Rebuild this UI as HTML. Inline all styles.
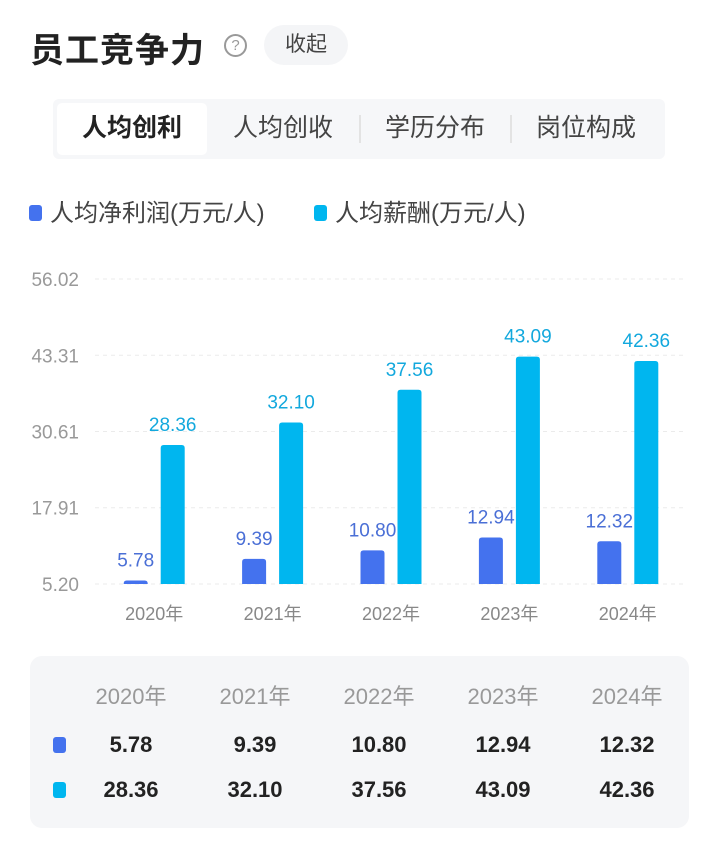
<!DOCTYPE html>
<html><head><meta charset="utf-8">
<style>
*{margin:0;padding:0;box-sizing:border-box}
body{width:719px;height:845px;background:#fff;font-family:"Liberation Sans","Noto Sans CJK SC",sans-serif;position:relative;overflow:hidden}
.abs{position:absolute}
.title{left:30px;top:23px;font-size:34px;font-weight:bold;color:#222;letter-spacing:1px}
.help{left:224px;top:34px;width:23px;height:23px;border:2px solid #999;border-radius:50%;color:#999;font-size:15px;text-align:center;line-height:19px}
.collapse{left:264px;top:25px;width:84px;height:40px;background:#f4f5f7;border-radius:20px;color:#444;font-size:21px;text-align:center;line-height:40px}
.tabs{left:53px;top:99px;width:612px;height:60px;background:#f6f7f9;border-radius:6px}
.tab{top:0;height:60px;line-height:58px;font-size:25px;color:#444;text-align:center;width:152px}
.tab.active{background:#fff;font-weight:bold;color:#222;top:4px;left:4px;height:52px;line-height:50px;border-radius:5px;width:150px}
.sep{top:16px;width:2px;height:28px;background:#e3e3e3}
.leg{top:193px;font-size:24px;color:#444}
.sq{display:inline-block;width:13px;height:16px;border-radius:3px;vertical-align:0px;margin-right:8px}
.table{left:30px;top:656px;width:659px;height:172px;background:#f5f6f8;border-radius:12px}
.cell{width:124px;text-align:center;font-size:21px}
</style></head><body>
<div class="abs title">员工竞争力</div>
<div class="abs help">?</div>
<div class="abs collapse">收起</div>
<div class="abs tabs">
 <div class="abs tab active">人均创利</div>
 <div class="abs tab" style="left:154px">人均创收</div>
 <div class="abs sep" style="left:306px"></div>
 <div class="abs tab" style="left:306px">学历分布</div>
 <div class="abs sep" style="left:457px"></div>
 <div class="abs tab" style="left:457px">岗位构成</div>
</div>
<div class="abs leg" style="left:29px"><span class="sq" style="background:#4472ee"></span>人均净利润(万元/人)</div>
<div class="abs leg" style="left:314px"><span class="sq" style="background:#00b6ef"></span>人均薪酬(万元/人)</div>
<svg class="abs" style="left:0;top:0" width="719" height="640" id="chart"></svg>
<div class="abs table" id="tbl"></div>
<script>
const categories=["2020年","2021年","2022年","2023年","2024年"];
const profit=[5.78,9.39,10.80,12.94,12.32];
const salary=[28.36,32.10,37.56,43.09,42.36];
const ticks=[5.20,17.91,30.61,43.31,56.02];
const NS="http://www.w3.org/2000/svg";
const svg=document.getElementById('chart');
const yMin=5.20,yMax=56.02,yB=584,yT=279,x0=95,x1=687;
const y=v=>yB-(v-yMin)/(yMax-yMin)*(yB-yT);
const bw=(x1-x0)/categories.length;
const cx=i=>x0+bw*(i+0.5);
function mk(t,a){const e=document.createElementNS(NS,t);for(const k in a)e.setAttribute(k,a[k]);svg.appendChild(e);return e;}
ticks.forEach(t=>{
 const l=mk('line',{x1:x0,x2:x1,y1:y(t),y2:y(t),stroke:'#ebebeb','stroke-dasharray':'4 4'});
 
 
 const tx=mk('text',{x:79,y:y(t)+7,'text-anchor':'end','font-size':19,fill:'#999'});
 tx.textContent=t.toFixed(2);
 
 
});
function bar(x,v,col,lc){
 const h=Math.max(y(yMin)-y(v),2),w=24;
 const p=mk('path',{d:`M${x},${yB}V${yB-h+3}q0,-3 3,-3h${w-6}q3,0 3,3V${yB}Z`,fill:col});
 
 
 const t=mk('text',{x:x+w/2,y:yB-h-14,'text-anchor':'middle','font-size':19,fill:lc});
 t.textContent=v.toFixed(2);
 
 
}
categories.forEach((c,i)=>{
 bar(cx(i)-6.5-24,profit[i],'#4472ee','#4a6fd6');
 bar(cx(i)+6.5,salary[i],'#00b6ef','#12a8dd');
 const t=mk('text',{x:cx(i),y:620,'text-anchor':'middle','font-size':18,fill:'#888'});
 t.textContent=c;
 
 
});
const tbl=document.getElementById('tbl');
function cell(txt,left,top,style,name){const d=document.createElement('div');d.className='abs cell';d.style.left=left+'px';d.style.top=top+'px';d.style.cssText+=style;d.textContent=txt;
 
 
 tbl.appendChild(d);}
categories.forEach((c,i)=>{
 const l=39+i*124;
 cell(c,l,23,'color:#999;font-size:22px','table-year-header');
 cell(profit[i].toFixed(2),l,76,'color:#222;font-weight:bold;font-size:22px','table-profit-value');
 cell(salary[i].toFixed(2),l,121,'color:#222;font-weight:bold;font-size:22px','table-salary-value');
});
[['#4472ee',81],['#00b6ef',126]].forEach(([c,t])=>{const s=document.createElement('div');s.className='abs';s.style.cssText=`left:23px;top:${t}px;width:13px;height:16px;border-radius:3px;background:${c}`;
 
 
 tbl.appendChild(s);});
</script>
</body></html>
